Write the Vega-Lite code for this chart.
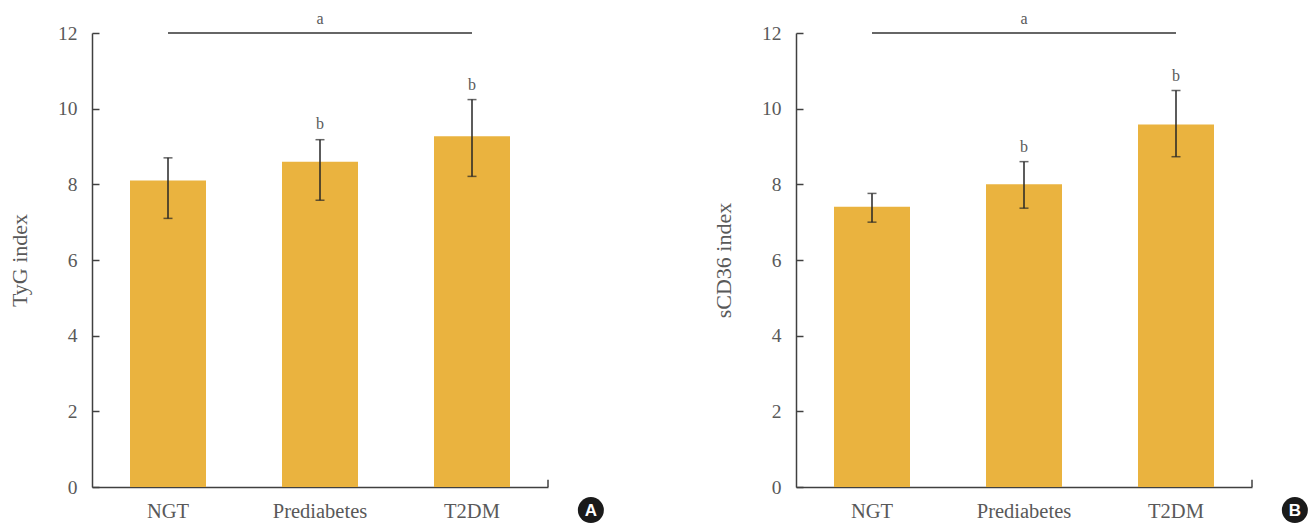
{
  "$schema": "https://vega.github.io/schema/vega-lite/v6.json",
  "background": "white",
  "padding": {"left": 8, "top": 11, "right": 5, "bottom": 0},
  "spacing": 108,
  "config": {
    "view": {"stroke": null},
    "axis": {
      "domainColor": "#404040",
      "domainWidth": 1.5,
      "tickColor": "#404040",
      "tickWidth": 1.5,
      "grid": false,
      "labelFont": "Liberation Serif",
      "labelColor": "#595959",
      "titleFont": "Liberation Serif",
      "titleColor": "#595959",
      "titleFontWeight": "normal"
    },
    "axisY": {"labelFontSize": 19.5, "tickSize": -7, "labelPadding": 22, "titleFontSize": 22, "titlePadding": 26},
    "axisX": {"labelFontSize": 20.5, "ticks": false, "labelPadding": 14, "labelAngle": 0}
  },
  "hconcat": [
    {
      "width": 456,
      "height": 454,
      "layer": [
        {
          "data": {"values": [
            {"group": "NGT", "mean": 8.10, "lo": 7.10, "hi": 8.70, "sig": ""},
            {"group": "Prediabetes", "mean": 8.60, "lo": 7.58, "hi": 9.18, "sig": "b", "sigY": 9.60},
            {"group": "T2DM", "mean": 9.27, "lo": 8.21, "hi": 10.24, "sig": "b", "sigY": 10.62}
          ]},
          "encoding": {
            "x": {"field": "group", "type": "nominal", "sort": null, "title": null,
                  "scale": {"paddingInner": 0.5, "paddingOuter": 0.25}}
          },
          "layer": [
            {"mark": {"type": "bar", "color": "#EAB33F"},
             "encoding": {"y": {"field": "mean", "type": "quantitative", "title": "TyG index",
                                "scale": {"domain": [0, 12], "nice": false},
                                "axis": {"values": [0, 2, 4, 6, 8, 10, 12]}}}},
            {"mark": {"type": "rule", "color": "#262626", "strokeWidth": 1.5},
             "encoding": {"y": {"field": "lo", "type": "quantitative"}, "y2": {"field": "hi"}}},
            {"mark": {"type": "tick", "color": "#262626", "thickness": 1.5, "size": 9, "orient": "horizontal"},
             "encoding": {"y": {"field": "hi", "type": "quantitative"}}},
            {"mark": {"type": "tick", "color": "#262626", "thickness": 1.5, "size": 9, "orient": "horizontal"},
             "encoding": {"y": {"field": "lo", "type": "quantitative"}}},
            {"mark": {"type": "text", "font": "Liberation Serif", "fontSize": 16, "fill": "#595959", "baseline": "middle"},
             "encoding": {"y": {"field": "sigY", "type": "quantitative"}, "text": {"field": "sig"}}}
          ]
        },
        {
          "data": {"values": [{"panel": "A", "sigTop": "a"}]},
          "layer": [
            {"mark": {"type": "rule", "color": "#666666", "strokeWidth": 2},
             "encoding": {"x": {"datum": 0.1667, "type": "quantitative", "scale": {"domain": [0, 1]}, "axis": null},
                          "x2": {"datum": 0.8333}, "y": {"datum": 12}}},
            {"mark": {"type": "text", "font": "Liberation Serif", "fontSize": 16, "fill": "#595959", "baseline": "middle"},
             "encoding": {"x": {"datum": 0.5, "type": "quantitative"}, "y": {"datum": 12.36}, "text": {"field": "sigTop"}}},
            {"mark": {"type": "rule", "color": "#404040", "strokeWidth": 1.5},
             "encoding": {"x": {"datum": 1, "type": "quantitative"}, "y": {"datum": 0}, "y2": {"datum": 0.19}}},
            {"mark": {"type": "point", "filled": true, "shape": "circle", "color": "#1a1a1a", "size": 676, "opacity": 1},
             "encoding": {"x": {"datum": 1.094, "type": "quantitative"}, "y": {"datum": -0.61}}},
            {"mark": {"type": "text", "font": "Liberation Sans", "fontWeight": "bold", "fontSize": 17, "fill": "white", "baseline": "middle", "dy": 1},
             "encoding": {"x": {"datum": 1.094, "type": "quantitative"}, "y": {"datum": -0.61}, "text": {"field": "panel"}}}
          ]
        }
      ],
      "resolve": {"scale": {"x": "independent"}, "axis": {"x": "independent"}}
    },
    {
      "width": 456,
      "height": 454,
      "layer": [
        {
          "data": {"values": [
            {"group": "NGT", "mean": 7.41, "lo": 7.00, "hi": 7.76, "sig": ""},
            {"group": "Prediabetes", "mean": 8.00, "lo": 7.37, "hi": 8.60, "sig": "b", "sigY": 9.00},
            {"group": "T2DM", "mean": 9.58, "lo": 8.73, "hi": 10.48, "sig": "b", "sigY": 10.86}
          ]},
          "encoding": {
            "x": {"field": "group", "type": "nominal", "sort": null, "title": null,
                  "scale": {"paddingInner": 0.5, "paddingOuter": 0.25}}
          },
          "layer": [
            {"mark": {"type": "bar", "color": "#EAB33F"},
             "encoding": {"y": {"field": "mean", "type": "quantitative", "title": "sCD36 index",
                                "scale": {"domain": [0, 12], "nice": false},
                                "axis": {"values": [0, 2, 4, 6, 8, 10, 12]}}}},
            {"mark": {"type": "rule", "color": "#262626", "strokeWidth": 1.5},
             "encoding": {"y": {"field": "lo", "type": "quantitative"}, "y2": {"field": "hi"}}},
            {"mark": {"type": "tick", "color": "#262626", "thickness": 1.5, "size": 9, "orient": "horizontal"},
             "encoding": {"y": {"field": "hi", "type": "quantitative"}}},
            {"mark": {"type": "tick", "color": "#262626", "thickness": 1.5, "size": 9, "orient": "horizontal"},
             "encoding": {"y": {"field": "lo", "type": "quantitative"}}},
            {"mark": {"type": "text", "font": "Liberation Serif", "fontSize": 16, "fill": "#595959", "baseline": "middle"},
             "encoding": {"y": {"field": "sigY", "type": "quantitative"}, "text": {"field": "sig"}}}
          ]
        },
        {
          "data": {"values": [{"panel": "B", "sigTop": "a"}]},
          "layer": [
            {"mark": {"type": "rule", "color": "#666666", "strokeWidth": 2},
             "encoding": {"x": {"datum": 0.1667, "type": "quantitative", "scale": {"domain": [0, 1]}, "axis": null},
                          "x2": {"datum": 0.8333}, "y": {"datum": 12}}},
            {"mark": {"type": "text", "font": "Liberation Serif", "fontSize": 16, "fill": "#595959", "baseline": "middle"},
             "encoding": {"x": {"datum": 0.5, "type": "quantitative"}, "y": {"datum": 12.36}, "text": {"field": "sigTop"}}},
            {"mark": {"type": "rule", "color": "#404040", "strokeWidth": 1.5},
             "encoding": {"x": {"datum": 1, "type": "quantitative"}, "y": {"datum": 0}, "y2": {"datum": 0.19}}},
            {"mark": {"type": "point", "filled": true, "shape": "circle", "color": "#1a1a1a", "size": 676, "opacity": 1},
             "encoding": {"x": {"datum": 1.094, "type": "quantitative"}, "y": {"datum": -0.61}}},
            {"mark": {"type": "text", "font": "Liberation Sans", "fontWeight": "bold", "fontSize": 17, "fill": "white", "baseline": "middle", "dy": 1},
             "encoding": {"x": {"datum": 1.094, "type": "quantitative"}, "y": {"datum": -0.61}, "text": {"field": "panel"}}}
          ]
        }
      ],
      "resolve": {"scale": {"x": "independent"}, "axis": {"x": "independent"}}
    }
  ]
}
